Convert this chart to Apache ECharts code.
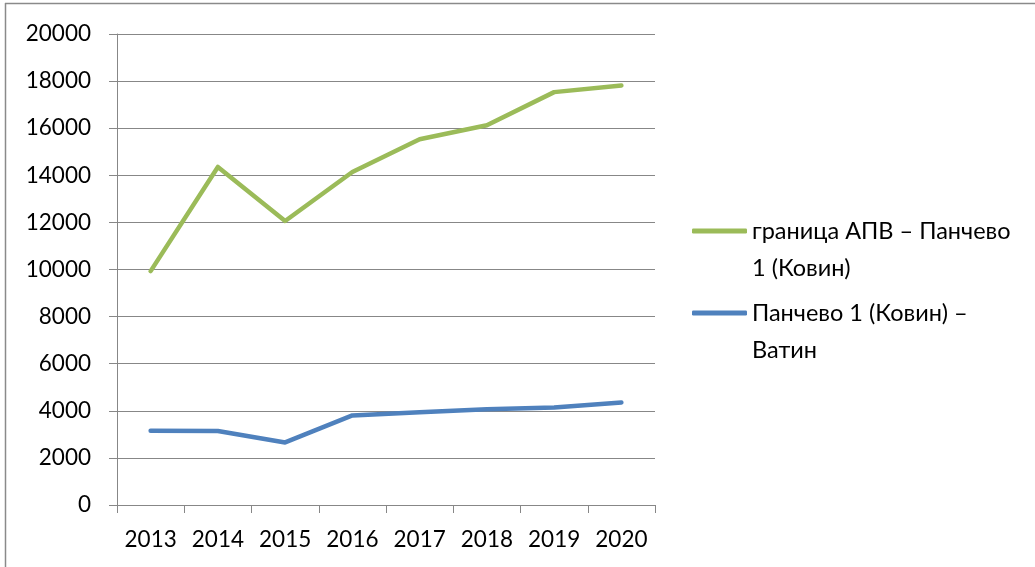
<!DOCTYPE html>
<html>
<head>
<meta charset="utf-8">
<script src="https://cdn.jsdelivr.net/npm/echarts@6/dist/echarts.min.js"></script>
<style>
html,body{margin:0;padding:0;background:#fff;}
#c{width:1035px;height:567px;}
</style>
</head>
<body>
<div id="c"></div>
<script>
const years = ['2013','2014','2015','2016','2017','2018','2019','2020'];
const seriesNames = ['граница АПВ – Панчево 1 (Ковин)', 'Панчево 1 (Ковин) – Ватин'];
const legendLabels = ['граница АПВ – Панчево\n1 (Ковин)', 'Панчево 1 (Ковин) –\nВатин'];
const apvPancevo = [9930, 14355, 12057, 14142, 15532, 16128, 17532, 17816];
const pancevoVatin = [3152, 3145, 2657, 3802, 3943, 4071, 4141, 4353];
const yTicks = { min: 0, max: 20000, interval: 2000 };

const FONT = 'Lato, "Noto Sans", sans-serif';
const chart = echarts.init(document.getElementById('c'), null, { renderer: 'canvas' });

function legendFor(idx, top) {
  return {
    data: [seriesNames[idx]],
    left: 692,
    top: top,
    padding: 0,
    icon: 'roundRect',
    itemWidth: 55,
    itemHeight: 5,
    formatter: () => '\n' + legendLabels[idx],
    textStyle: {
      fontFamily: FONT,
      fontSize: 23.5,
      color: '#000',
      lineHeight: 37
    },
    selectedMode: false
  };
}

chart.setOption({
  animation: false,
  backgroundColor: '#fff',
  grid: { left: 117, right: 380, top: 34, bottom: 62 },
  legend: [legendFor(0, 175.5), legendFor(1, 257.5)],
  xAxis: {
    type: 'category',
    data: years,
    boundaryGap: true,
    axisLine: { show: true, lineStyle: { color: '#878787', width: 1 } },
    axisTick: { show: true, length: 8, interval: 0, lineStyle: { color: '#878787' } },
    axisLabel: { fontFamily: FONT, fontSize: 22.5, color: '#000', margin: 23, interval: 0 },
    splitLine: { show: false }
  },
  yAxis: {
    type: 'value',
    min: yTicks.min,
    max: yTicks.max,
    interval: yTicks.interval,
    axisLine: { show: true, lineStyle: { color: '#878787', width: 1 } },
    axisTick: { show: true, length: 8, inside: false, lineStyle: { color: '#878787' } },
    axisLabel: { fontFamily: FONT, fontSize: 22.5, color: '#000', margin: 26, formatter: v => String(v) },
    splitLine: { show: true, lineStyle: { color: '#878787', width: 1 } }
  },
  series: [
    {
      name: seriesNames[0],
      type: 'line',
      data: apvPancevo,
      symbol: 'none',
      color: '#9BBB59',
      lineStyle: { color: '#9BBB59', width: 4.5, cap: 'round', join: 'round' }
    },
    {
      name: seriesNames[1],
      type: 'line',
      data: pancevoVatin,
      symbol: 'none',
      color: '#4F81BD',
      lineStyle: { color: '#4F81BD', width: 4.5, cap: 'round', join: 'round' }
    }
  ],
  graphic: [
    { type: 'line', shape: { x1: 5, y1: 3.5, x2: 1035, y2: 3.5 }, style: { stroke: '#8a8a8a', lineWidth: 1.5 } },
    { type: 'line', shape: { x1: 5.5, y1: 3, x2: 5.5, y2: 567 }, style: { stroke: '#8a8a8a', lineWidth: 1.5 } }
  ]
});
</script>
</body>
</html>
